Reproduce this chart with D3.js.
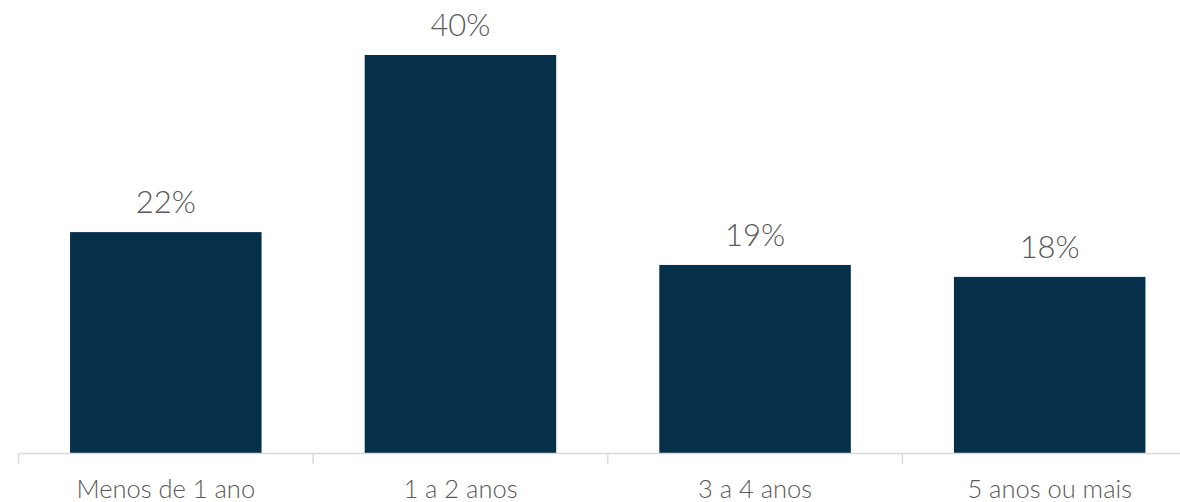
<!DOCTYPE html>
<html><head><meta charset="utf-8">
<script src="https://cdn.jsdelivr.net/npm/d3@7"></script>
<style>body{margin:0;background:#fff;} svg{display:block;}</style>
</head><body>
<svg id="c" width="1180" height="502"></svg>
<script>
const categories = ["Menos de 1 ano", "1 a 2 anos", "3 a 4 anos", "5 anos ou mais"];
const values = [0.222, 0.40, 0.189, 0.177];
const valueLabels = ["22%", "40%", "19%", "18%"];

const svg = d3.select("#c");
const x = d3.scaleBand().domain(categories).range([18.5, 1197]).paddingInner(0.35).paddingOuter(0.175);
const y = d3.scaleLinear().domain([0, 0.40]).range([453, 55]);

svg.selectAll("rect.bar").data(categories).join("rect")
  .attr("class","bar")
  .attr("x", d => x(d)).attr("width", x.bandwidth())
  .attr("y", (d,i) => y(values[i])).attr("height", (d,i) => y(0) - y(values[i]))
  .attr("fill", "#063049");

svg.selectAll("text.val").data(categories).join("text")
  .attr("class","val")
  .attr("x", d => x(d) + x.bandwidth()/2)
  .attr("y", (d,i) => y(values[i]) - 19)
  .attr("text-anchor","middle")
  .attr("font-family","Lato").attr("font-weight",300).attr("font-size",31)
  .attr("fill","#595959")
  .text((d,i) => valueLabels[i]);

const xa = d3.scaleBand().domain(categories).range([18.5, 1197]);
const g = svg.append("g").attr("transform","translate(0,453.5)");
g.append("line").attr("x1",18.5).attr("x2",1197).attr("y1",0).attr("y2",0).attr("stroke","#d9d9d9").attr("stroke-width",1.5);
const bounds = [0,1,2,3,4].map(i => 18.5 + i * xa.step());
g.selectAll("line.tk").data(bounds).join("line").attr("class","tk")
  .attr("x1", d=>d).attr("x2", d=>d).attr("y1",0).attr("y2",10)
  .attr("stroke","#d9d9d9").attr("stroke-width",1.5);
g.selectAll("text.cat").data(categories).join("text").attr("class","cat")
  .attr("x", d => xa(d) + xa.bandwidth()/2).attr("y", 44)
  .attr("text-anchor","middle")
  .attr("font-family","Lato").attr("font-weight",300).attr("font-size",25.5)
  .attr("fill","#595959")
  .text(d => d);
</script>
</body></html>
